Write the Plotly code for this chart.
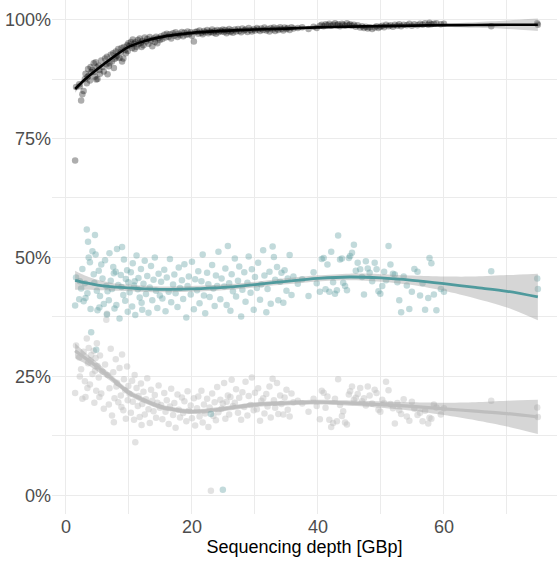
import plotly.graph_objects as go

# ---- sample data ----
depth = [
    1.45, 1.6, 2.1, 2.2, 2.4, 2.6, 2.8, 3.0, 3.1, 3.3, 3.4, 3.5, 3.6, 3.8, 3.9, 4.0, 4.2, 4.4, 4.5, 4.6, 4.7, 4.8, 4.9, 5.0,
    5.2, 5.3, 5.4, 5.6, 5.8, 6.0, 6.2, 6.4, 6.5, 6.6, 6.8, 6.9, 7.1, 7.3, 7.5, 7.6, 7.7, 7.9, 8.0, 8.1, 8.3, 8.5, 8.7, 8.8, 8.9, 9.1, 9.2, 9.4, 9.5, 9.7, 9.8, 9.9,
    10.1, 10.3, 10.5, 10.6, 10.8, 10.9, 11.0, 11.2, 11.4, 11.5, 11.7, 11.9, 12.0, 12.1, 12.3, 12.5, 12.7, 12.9, 13.1, 13.3, 13.5, 13.7, 13.9, 14.1, 14.3, 14.5, 14.7, 14.9,
    15.1, 15.3, 15.6, 15.8, 16.0, 16.3, 16.5, 16.7, 17.0, 17.2, 17.4, 17.7, 17.9, 18.1, 18.4, 18.6, 18.8, 19.1, 19.3, 19.5, 19.8, 20.0, 20.3, 20.5,
    20.8, 21.0, 21.2, 21.5, 21.7, 21.9, 22.1, 22.4, 22.6, 22.8, 23.0, 23.2, 23.4, 23.6, 23.8, 24.0, 24.2, 24.5, 24.7, 24.9, 25.1, 25.3, 25.5, 25.7, 25.9, 26.1, 26.3, 26.5,
    26.8, 27.0, 27.3, 27.5, 27.8, 28.0, 28.3, 28.5, 28.8, 29.0, 29.3, 29.5, 29.8, 30.0, 30.3, 30.5, 30.8, 31.0, 31.3, 31.5, 31.8, 32.0, 32.3, 32.5,
    32.8, 33.0, 33.2, 33.5, 33.7, 34.0, 34.2, 34.5, 34.7, 35.0, 35.2, 35.5, 35.8, 36.1,
    36.8, 37.5, 38.5, 39.3, 39.8,
    40.3, 40.6, 40.9, 41.2, 41.5, 41.8, 42.1, 42.4, 42.7, 43.0, 43.2, 43.5, 43.8, 44.0, 44.3, 44.6, 44.9, 45.1, 45.4, 45.7,
    46.0, 46.3, 46.7, 47.0, 47.3, 47.6, 47.9, 48.2, 48.6, 49.0, 49.3, 49.6, 49.9, 50.2, 50.5, 50.8, 51.2, 51.5, 51.9, 52.2,
    52.6, 52.9, 53.2, 53.6, 54.1, 54.5, 54.9, 55.3, 55.8, 56.2, 56.6, 57.0, 57.5, 57.7, 58.0, 58.4, 58.8, 59.5, 60.0,
    67.5, 74.8, 74.9,
]

mapped_pct = [
    70.4, 85.8, 86.4, 86.0, 83.0, 84.3, 85.0, 87.5, 88.6, 86.6, 87.9, 89.6, 88.2, 87.2, 90.0, 88.9, 89.4, 90.8, 89.0, 88.0, 91.0, 87.4, 89.9, 87.5,
    90.3, 89.4, 88.6, 91.4, 90.0, 89.1, 91.8, 90.6, 92.2, 88.5, 90.2, 90.8, 92.6, 91.2, 92.9, 89.8, 91.7, 93.3, 92.0, 92.4, 93.8, 91.9, 93.1, 94.0, 91.2, 91.8, 94.2, 93.6, 92.9, 94.6, 93.4, 95.0,
    94.5, 95.3, 94.0, 95.8, 94.9, 93.8, 95.2, 94.3, 95.7, 94.8, 96.0, 95.1, 94.2, 95.5, 94.6, 96.2, 95.4, 95.9, 94.9, 96.3, 95.6, 94.4, 96.0, 95.3, 96.4, 95.0, 96.1, 95.7,
    96.5, 95.9, 96.8, 96.2, 97.0, 96.4, 96.9, 96.0, 97.1, 96.6, 97.3, 96.3, 97.0, 96.7, 97.4, 96.5, 97.2, 96.8, 97.5, 96.9, 97.3, 96.6, 95.4, 97.4,
    97.5, 97.0, 97.7, 97.2, 96.9, 97.6, 97.3, 97.8, 97.1, 97.5, 97.4, 97.9, 97.2, 97.6, 97.0, 97.8, 97.3, 97.7, 97.5, 97.9, 97.4, 97.8, 97.1, 97.6, 98.0, 97.4, 97.7, 97.2,
    97.9, 97.5, 98.0, 97.6, 97.3, 98.1, 97.7, 97.9, 97.4, 98.2, 97.8, 97.5, 98.0, 97.7, 98.2, 97.9, 97.6, 98.1, 97.8, 98.3, 97.7, 98.0, 97.5, 98.2,
    97.9, 98.3, 97.6, 98.1, 97.8, 98.4, 98.0, 97.7, 98.3, 98.0, 98.2, 97.8, 98.4, 98.1,
    98.2, 98.4, 98.0, 98.5, 98.2,
    98.7, 98.9, 98.6, 99.0, 98.8, 99.1, 98.7, 98.9, 99.2, 98.8, 99.0, 98.6, 99.1, 98.9, 98.7, 99.2, 98.8, 99.0, 98.7, 98.9,
    98.5, 98.8, 98.3, 98.6, 98.2, 98.5, 98.1, 98.4, 98.0, 98.3, 98.6, 98.2, 98.5, 98.7, 98.4, 98.9, 98.6, 98.8, 98.5, 98.9,
    98.7, 99.0, 98.6, 98.9, 98.8, 99.1, 98.7, 99.0, 98.8, 99.1, 98.9, 99.2, 98.9, 99.3, 99.0, 99.1, 99.2, 99.0, 99.1,
    98.6, 99.2, 98.9,
]

teal_pct = [
    39.9, 45.8, 41.2, 45.0, 43.5, 47.6, 40.8, 44.6, 41.5, 55.9, 42.5, 53.3, 50.0, 49.0, 39.2, 34.3, 51.3, 46.5, 44.7, 54.7, 50.6, 30.6, 43.0, 38.9,
    47.2, 39.5, 41.9, 48.5, 45.6, 40.2, 49.4, 44.0, 38.0, 42.9, 41.0, 50.9, 45.1, 43.4, 48.0, 46.7, 39.3, 47.0, 40.0, 51.8, 44.2, 37.2, 46.3, 43.8, 52.2, 42.1, 49.6, 40.9, 45.5, 47.3, 38.6, 44.8,
    42.7, 46.9, 39.7, 48.8, 44.1, 45.0, 37.9, 50.4, 43.3, 45.7, 41.6, 47.6, 40.5, 39.0, 44.5, 49.3, 42.3, 46.1, 38.4, 43.7, 48.2, 41.0, 45.3, 50.0, 43.0, 39.4, 46.6, 42.0,
    44.9, 41.4, 47.4, 38.7, 45.8, 42.8, 49.7, 40.6, 44.3, 46.4, 42.5, 39.6, 47.9, 43.6, 45.2, 41.3, 48.6, 37.4, 44.0, 46.0, 42.2, 49.1, 39.1, 45.4,
    43.1, 47.1, 40.4, 45.0, 50.6, 42.0, 38.3, 46.8, 44.4, 41.7, 17.1, 48.4, 43.5, 39.8, 46.2, 44.0, 51.2, 41.2, 45.6, 1.2, 43.9, 47.7, 40.0, 52.4, 44.6, 38.8, 46.5, 42.9,
    49.8, 41.8, 45.1, 48.1, 37.6, 43.2, 46.9, 40.7, 44.7, 50.2, 42.6, 47.5, 39.0, 45.9, 43.6, 48.9, 41.1, 44.3, 51.5, 46.2, 38.5, 43.4, 47.0, 40.3,
    52.3, 50.1, 45.3, 48.0, 41.0, 44.9, 46.8, 40.5, 47.3, 43.0, 45.6, 50.5, 42.1, 46.0,
    44.5, 45.4, 41.9, 46.9, 44.6,
    42.8, 49.7, 49.9, 43.3, 48.5, 42.8, 51.2, 44.8, 42.4, 43.1, 54.6, 49.6, 49.8, 44.7, 44.0, 43.1, 49.9, 50.3, 51.0, 52.7,
    47.2, 48.9, 47.5, 45.9, 42.2, 49.2, 47.7, 46.8, 45.0, 48.9, 47.5, 42.9, 42.4, 44.0, 47.0, 45.2, 52.4, 48.5, 46.6, 46.4,
    44.8, 41.0, 38.5, 46.0, 44.1, 39.2, 42.8, 47.6, 47.0, 42.0, 44.6, 39.0, 41.5, 49.9, 48.8, 42.2, 38.9, 43.4, 42.8,
    47.1, 45.6, 43.4,
]

grey_pct = [
    21.5, 31.5, 29.0, 25.0, 26.5, 20.3, 30.2, 24.0, 20.7, 33.0, 22.6, 27.8, 31.0, 23.3, 28.4, 29.5, 25.5, 30.4, 19.5, 26.2, 28.9, 22.0, 32.0, 27.2,
    24.8, 20.7, 29.4, 21.4, 26.0, 18.2, 27.5, 36.9, 38.2, 25.3, 19.1, 22.5, 30.8, 16.8, 25.9, 15.4, 20.4, 28.6, 22.9, 23.7, 19.6, 26.8, 21.0, 18.6, 29.6, 17.9, 24.4, 22.1, 16.1, 27.1, 20.0, 23.0,
    21.3, 17.4, 24.1, 19.7, 15.9, 25.3, 11.2, 22.6, 18.8, 20.9, 16.5, 23.5, 14.8, 19.2, 21.8, 17.0, 20.2, 24.6, 18.1, 15.2, 22.2, 19.9, 17.7, 21.1, 16.3, 19.5, 23.1, 18.4,
    19.0, 16.0, 21.5, 17.6, 20.0, 15.0, 18.7, 22.4, 16.9, 19.4, 14.2, 21.2, 18.0, 16.4, 20.6, 17.3, 19.8, 15.6, 21.9, 17.8, 18.9, 16.2, 20.4, 14.7,
    18.3, 20.8, 16.6, 22.0, 15.3, 19.1, 17.2, 20.3, 14.4, 18.5, 1.0, 21.4, 16.7, 19.6, 15.8, 22.8, 17.5, 20.1, 18.2, 19.3, 23.6, 16.1, 19.7, 21.0, 17.0, 20.7, 24.3, 18.8,
    19.5, 22.3, 17.4, 20.5, 15.9, 21.7, 18.6, 23.9, 16.8, 20.9, 19.0, 24.8, 17.9, 21.6, 18.1, 22.5, 15.7, 19.9, 20.4, 17.2, 21.3, 18.7, 22.9, 16.4,
    24.5, 20.0, 18.4, 23.6, 17.1, 21.0, 19.2, 17.0, 20.6, 22.2, 18.0, 16.6, 21.4, 19.6,
    19.9, 19.3, 17.6, 20.3, 18.8,
    16.0, 22.0, 21.6, 18.4, 20.8, 15.9, 14.4, 15.2, 20.3, 15.6, 24.4, 19.0, 16.7, 17.7, 15.3, 14.9, 21.2, 21.9, 22.9, 20.1,
    20.5, 21.3, 22.6, 19.8, 20.4, 18.9, 22.9, 21.0, 19.3, 22.2, 21.5, 18.0, 17.6, 20.1, 19.4, 23.9, 22.1, 19.2, 18.3, 15.1,
    19.4, 17.9, 17.1, 20.2, 16.6, 15.7, 19.7, 18.2, 16.9, 17.4, 15.6, 17.8, 15.1, 16.3, 16.1, 19.1, 18.5, 17.0, 18.3,
    19.9, 18.5, 16.5,
]

# ---- smoothed trends (loess fits with 95% bands) ----
fit_x = [1.45, 3, 5, 7.5, 10, 12.5, 15, 20, 25, 30, 35, 40, 45, 50, 55, 60, 65, 70, 74.9]
mapped_fit = [85.4, 87.4, 89.6, 92.1, 94.3, 95.5, 96.3, 97.2, 97.6, 97.9, 98.1, 98.35, 98.5, 98.6, 98.7, 98.8, 98.85, 98.9, 98.9]
mapped_se = [0.8, 0.5, 0.4, 0.35, 0.3, 0.25, 0.2, 0.2, 0.2, 0.2, 0.2, 0.2, 0.2, 0.2, 0.25, 0.35, 0.6, 0.9, 1.3]
teal_fit = [45.2, 44.7, 44.2, 43.8, 43.6, 43.4, 43.3, 43.4, 43.7, 44.3, 45.0, 45.6, 45.9, 45.7, 45.2, 44.5, 43.7, 42.9, 41.7]
teal_se = [2.0, 1.5, 1.1, 0.8, 0.7, 0.65, 0.6, 0.6, 0.6, 0.6, 0.65, 0.65, 0.7, 0.8, 1.0, 1.5, 2.3, 3.4, 4.9]
grey_fit = [30.4, 28.9, 27.0, 24.3, 21.6, 19.9, 18.6, 17.6, 18.2, 19.1, 19.4, 19.6, 19.4, 19.1, 18.7, 18.2, 17.7, 17.2, 16.5]
grey_se = [1.6, 1.2, 0.9, 0.7, 0.6, 0.55, 0.5, 0.5, 0.5, 0.5, 0.5, 0.5, 0.55, 0.65, 0.9, 1.3, 1.9, 2.7, 3.6]

x_ticks = [0, 20, 40, 60]
y_ticks = [0, 0.25, 0.5, 0.75, 1.0]
y_tick_labels = ["0%", "25%", "50%", "75%", "100%"]

BAND = "rgba(153,153,153,0.4)"

fig = go.Figure()


def add_series(yvals, fit, se, point_color, line_color, line_width):
    fig.add_trace(go.Scatter(
        x=depth, y=[v / 100 for v in yvals], mode="markers",
        marker=dict(size=6.5, color=point_color, line=dict(width=0)),
        showlegend=False, hoverinfo="skip"))
    upper = [(f + s) / 100 for f, s in zip(fit, se)]
    lower = [(f - s) / 100 for f, s in zip(fit, se)]
    fig.add_trace(go.Scatter(
        x=fit_x, y=lower, mode="lines",
        line=dict(width=0, shape="spline", smoothing=0.8),
        showlegend=False, hoverinfo="skip"))
    fig.add_trace(go.Scatter(
        x=fit_x, y=upper, mode="lines",
        line=dict(width=0, shape="spline", smoothing=0.8), fill="tonexty", fillcolor=BAND,
        showlegend=False, hoverinfo="skip"))
    fig.add_trace(go.Scatter(
        x=fit_x, y=[f / 100 for f in fit], mode="lines",
        line=dict(color=line_color, width=line_width, shape="spline", smoothing=0.8),
        showlegend=False, hoverinfo="skip"))


add_series(grey_pct, grey_fit, grey_se, "rgba(190,190,190,0.45)", "#BEBEBE", 3.2)
add_series(teal_pct, teal_fit, teal_se, "rgba(95,158,160,0.38)", "#4F9A9D", 2.8)
add_series(mapped_pct, mapped_fit, mapped_se, "rgba(0,0,0,0.32)", "#000000", 2.7)

FONT = "Liberation Sans, Arial, Helvetica, sans-serif"

fig.update_layout(
    width=557, height=561,
    margin=dict(l=52, r=0, t=0, b=47),
    paper_bgcolor="white", plot_bgcolor="white",
    font=dict(family=FONT, size=18, color="#4D4D4D"),
    xaxis=dict(
        range=[-2.22, 77.94], tickvals=x_ticks, ticks="", showline=False, zeroline=False,
        showgrid=True, gridcolor="#EBEBEB", gridwidth=1.1,
        minor=dict(dtick=10, tick0=0, showgrid=True, gridcolor="#EBEBEB", gridwidth=0.6),
        tickfont=dict(size=18, color="#4D4D4D"),
        title=dict(text="Sequencing depth [GBp]", font=dict(size=18, color="black"), standoff=2),
    ),
    yaxis=dict(
        range=[-0.039, 1.041], tickvals=y_ticks, ticktext=y_tick_labels, ticks="",
        showline=False, zeroline=False,
        showgrid=True, gridcolor="#EBEBEB", gridwidth=1.1,
        minor=dict(dtick=0.125, tick0=0, showgrid=True, gridcolor="#EBEBEB", gridwidth=0.6),
        tickfont=dict(size=18, color="#4D4D4D"), ticklabelstandoff=0,
    ),
)

fig.write_html("out.html")
